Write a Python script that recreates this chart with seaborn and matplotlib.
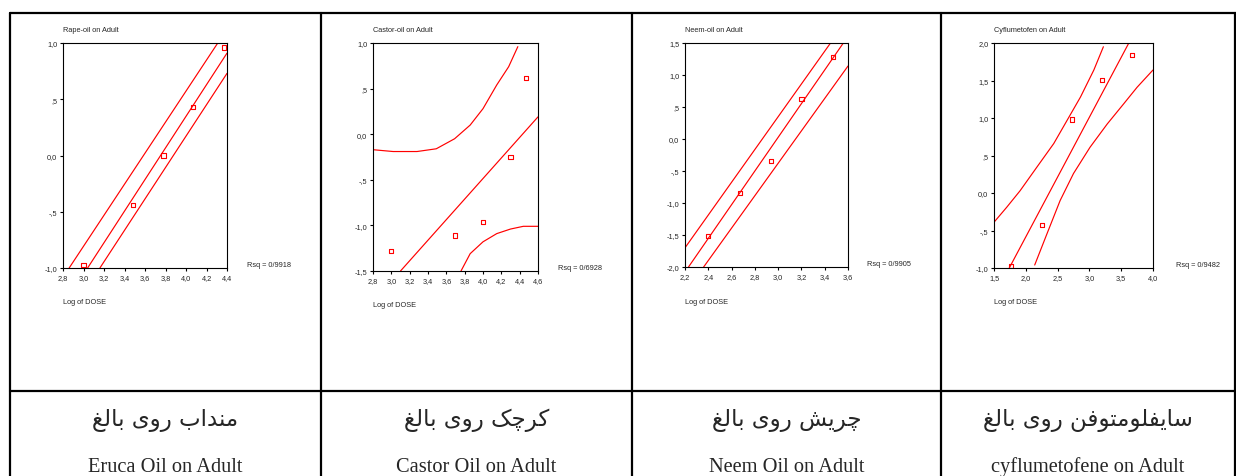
import numpy as np
import pandas as pd
import seaborn as sns
import matplotlib
matplotlib.use('Agg')
import matplotlib.pyplot as plt
from matplotlib.ticker import FixedLocator, FuncFormatter

W, H = 1236, 477
RED = '#ff0000'

# --- values ---
titles = ['Rape-oil on Adult', 'Castor-oil on Adult', 'Neem-oil on Adult', 'Cyflumetofen on Adult']
rsq_labels = ['Rsq = 0/9918', 'Rsq = 0/6928', 'Rsq = 0/9905', 'Rsq = 0/9482']
captions_fa = ['منداب روی بالغ', 'کرچک روی بالغ', 'چریش روی بالغ', 'سایفلومتوفن روی بالغ']
captions_en = ['Eruca Oil on Adult', 'Castor Oil on Adult', 'Neem Oil on Adult', 'cyflumetofene on Adult']

# rape (eruca) oil
rape_x = [3.00, 3.48, 3.78, 4.07, 4.37]
rape_y = [-0.97, -0.44, 0.00, 0.43, 0.96]
rape_fit_x = [3.04, 4.40]
rape_fit_y = [-1.00, 0.91]
rape_up_x = [2.86, 4.31]
rape_up_y = [-1.00, 1.00]
rape_lo_x = [3.16, 4.40]
rape_lo_y = [-1.00, 0.73]

# castor oil
castor_x = [3.00, 3.69, 4.00, 4.30, 4.47]
castor_y = [-1.28, -1.11, -0.96, -0.25, 0.62]
castor_fit_x = [3.10, 4.60]
castor_fit_y = [-1.50, 0.19]
castor_up_x = [2.80, 3.02, 3.28, 3.49, 3.69, 3.86, 4.00, 4.15, 4.28, 4.38]
castor_up_y = [-0.17, -0.19, -0.19, -0.16, -0.05, 0.10, 0.28, 0.54, 0.74, 0.96]
castor_lo_x = [3.76, 3.86, 4.00, 4.15, 4.30, 4.44, 4.60]
castor_lo_y = [-1.50, -1.31, -1.18, -1.09, -1.04, -1.01, -1.01]

# neem oil
neem_x = [2.40, 2.67, 2.94, 3.20, 3.47]
neem_y = [-1.52, -0.84, -0.34, 0.62, 1.28]
neem_fit_x = [2.23, 3.56]
neem_fit_y = [-2.00, 1.50]
neem_up_x = [2.20, 3.45]
neem_up_y = [-1.70, 1.50]
neem_lo_x = [2.36, 3.60]
neem_lo_y = [-2.00, 1.14]

# cyflumetofen
cyflu_x = [1.77, 2.25, 2.72, 3.20, 3.67]
cyflu_y = [-0.97, -0.43, 0.98, 1.51, 1.84]
cyflu_fit_x = [1.74, 3.62]
cyflu_fit_y = [-1.00, 2.00]
cyflu_up_x = [1.50, 1.70, 1.91, 2.17, 2.44, 2.65, 2.86, 3.07, 3.22]
cyflu_up_y = [-0.39, -0.19, 0.03, 0.34, 0.66, 0.97, 1.28, 1.64, 1.95]
cyflu_lo_x = [2.14, 2.33, 2.54, 2.75, 3.01, 3.28, 3.54, 3.75, 4.00]
cyflu_lo_y = [-0.96, -0.55, -0.10, 0.26, 0.61, 0.92, 1.19, 1.41, 1.64]

panels = [
    dict(px=rape_x, py=rape_y, lines=[(rape_fit_x, rape_fit_y), (rape_up_x, rape_up_y), (rape_lo_x, rape_lo_y)],
         xlim=(2.8, 4.4), ylim=(-1.0, 1.0), xticks=np.arange(2.8, 4.41, 0.2), yticks=[-1.0, -0.5, 0.0, 0.5, 1.0],
         box=(63, 44, 227, 269), rsq=(247, 266), log_y=303),
    dict(px=castor_x, py=castor_y, lines=[(castor_fit_x, castor_fit_y), (castor_up_x, castor_up_y), (castor_lo_x, castor_lo_y)],
         xlim=(2.8, 4.6), ylim=(-1.5, 1.0), xticks=np.arange(2.8, 4.61, 0.2), yticks=[-1.5, -1.0, -0.5, 0.0, 0.5, 1.0],
         box=(373, 44, 538, 272), rsq=(558, 268), log_y=306),
    dict(px=neem_x, py=neem_y, lines=[(neem_fit_x, neem_fit_y), (neem_up_x, neem_up_y), (neem_lo_x, neem_lo_y)],
         xlim=(2.2, 3.6), ylim=(-2.0, 1.5), xticks=np.arange(2.2, 3.61, 0.2), yticks=[-2.0, -1.5, -1.0, -0.5, 0.0, 0.5, 1.0, 1.5],
         box=(685, 44, 848, 268), rsq=(867, 265), log_y=302),
    dict(px=cyflu_x, py=cyflu_y, lines=[(cyflu_fit_x, cyflu_fit_y), (cyflu_up_x, cyflu_up_y), (cyflu_lo_x, cyflu_lo_y)],
         xlim=(1.5, 4.0), ylim=(-1.0, 2.0), xticks=np.arange(1.5, 4.01, 0.5), yticks=[-1.0, -0.5, 0.0, 0.5, 1.0, 1.5, 2.0],
         box=(994, 44, 1153, 269), rsq=(1176, 266), log_y=302),
]

# persian letters -> presentation forms (isolated, final, initial, medial)
FORMS = {
    'ا': ('\uFE8D', '\uFE8E', None, None),
    'ب': ('\uFE8F', '\uFE90', '\uFE91', '\uFE92'),
    'ت': ('\uFE95', '\uFE96', '\uFE97', '\uFE98'),
    'چ': ('\uFB7A', '\uFB7B', '\uFB7C', '\uFB7D'),
    'د': ('\uFEA9', '\uFEAA', None, None),
    'ر': ('\uFEAD', '\uFEAE', None, None),
    'س': ('\uFEB1', '\uFEB2', '\uFEB3', '\uFEB4'),
    'ش': ('\uFEB5', '\uFEB6', '\uFEB7', '\uFEB8'),
    'غ': ('\uFECD', '\uFECE', '\uFECF', '\uFED0'),
    'ف': ('\uFED1', '\uFED2', '\uFED3', '\uFED4'),
    'ک': ('\uFB8E', '\uFB8F', '\uFB90', '\uFB91'),
    'ك': ('\uFB8E', '\uFB8F', '\uFB90', '\uFB91'),
    'ل': ('\uFEDD', '\uFEDE', '\uFEDF', '\uFEE0'),
    'م': ('\uFEE1', '\uFEE2', '\uFEE3', '\uFEE4'),
    'ن': ('\uFEE5', '\uFEE6', '\uFEE7', '\uFEE8'),
    'و': ('\uFEED', '\uFEEE', None, None),
    'ی': ('\uFBFC', '\uFBFD', '\uFBFE', '\uFBFF'),
    'ي': ('\uFBFC', '\uFBFD', '\uFBFE', '\uFBFF'),
    'ى': ('\uFBFC', '\uFBFD', '\uFBFE', '\uFBFF'),
}


def shape_fa(text):
    out = []
    for i, ch in enumerate(text):
        if ch not in FORMS:
            out.append(ch)
            continue
        prev = text[i - 1] if i > 0 else ''
        nxt = text[i + 1] if i + 1 < len(text) else ''
        iso, fin, ini, med = FORMS[ch]
        jp = prev in FORMS and FORMS[prev][2] is not None
        jn = ini is not None and nxt in FORMS
        if jp and jn:
            out.append(med)
        elif jp:
            out.append(fin)
        elif jn:
            out.append(ini)
        else:
            out.append(iso)
    return ''.join(reversed(out))


def spss_fmt(v, pos=None):
    s = f'{v:.1f}'.replace('.', ',')
    if s.startswith('0,') and s != '0,0':
        s = s[1:]
    if s.startswith('-0,'):
        s = '-' + s[2:]
    return s


sns.set_style('white')
plt.rcParams['font.family'] = ['Liberation Sans', 'DejaVu Sans']

fig = plt.figure(figsize=(W / 100, H / 100), dpi=100)

# table grid (page layout around the SPSS images)
grid = fig.add_axes([0, 0, 1, 1])
grid.set_xlim(0, W)
grid.set_ylim(H, 0)
grid.axis('off')
lw_tab = 1.6
grid.plot([10, W], [14, 14], color='black', lw=lw_tab)
grid.plot([10, W], [392, 392], color='black', lw=lw_tab)
for xv in [10, 321, 632, 941, 1235]:
    grid.plot([xv, xv], [14, H], color='black', lw=lw_tab)

col_centers = [165.5, 476.5, 786.5, 1088]
small = 5.3

for i, p in enumerate(panels):
    l, t, r, b = p['box']
    ax = fig.add_axes([l / W, 1 - b / H, (r - l) / W, (b - t) / H])
    for lx, ly in p['lines']:
        sns.lineplot(x=lx, y=ly, ax=ax, color=RED, lw=0.85, sort=False, estimator=None)
    sns.scatterplot(x=p['px'], y=p['py'], ax=ax, marker='s', s=9,
                    facecolor='none', edgecolor=RED, linewidth=0.8, zorder=3)
    ax.set_xlim(*p['xlim'])
    ax.set_ylim(*p['ylim'])
    ax.xaxis.set_major_locator(FixedLocator(p['xticks']))
    ax.yaxis.set_major_locator(FixedLocator(p['yticks']))
    ax.xaxis.set_major_formatter(FuncFormatter(spss_fmt))
    ax.yaxis.set_major_formatter(FuncFormatter(spss_fmt))
    ax.tick_params(axis='both', direction='out', length=2.5, width=0.8, color='black',
                   labelsize=small, pad=1.5, bottom=True, left=True)
    for sp in ax.spines.values():
        sp.set_visible(True)
        sp.set_color('black')
        sp.set_linewidth(0.8)
    ax.set_xlabel('')
    ax.set_ylabel('')

    fig.text(l / W, 1 - 30 / H, titles[i], fontsize=small, ha='left', va='center')
    fig.text(l / W, 1 - p['log_y'] / H, 'Log of DOSE', fontsize=small, ha='left', va='center')
    fig.text(p['rsq'][0] / W, 1 - p['rsq'][1] / H, rsq_labels[i], fontsize=small, ha='left', va='center')

    cx = col_centers[i] / W
    fig.text(cx, 1 - 426 / H, shape_fa(captions_fa[i]), fontsize=16.5, ha='center', va='baseline',
             family=['DejaVu Sans'])
    fig.text(cx, 1 - 472 / H, captions_en[i], fontsize=14.7, ha='center', va='baseline',
             family=['Liberation Serif', 'DejaVu Serif'])

fig.savefig('out.png', dpi=100)
